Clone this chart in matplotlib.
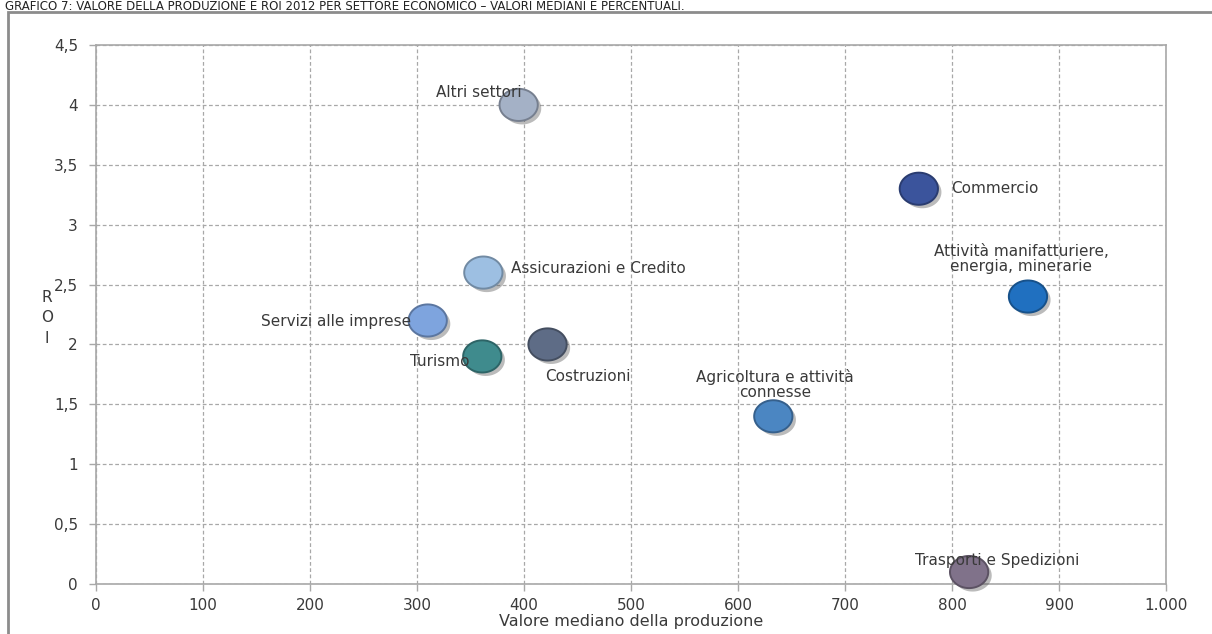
import numpy as np
import matplotlib
matplotlib.use("Agg")
import matplotlib.pyplot as plt
import matplotlib.patheffects as pe
from matplotlib.patches import Rectangle
from matplotlib.path import Path
from matplotlib.colors import to_rgb

# Sector data: median production value (x) and ROI 2012 (y)
sectors = ["Altri settori", "Commercio", "Attività manifatturiere,\nenergia, minerarie",
           "Assicurazioni e Credito", "Servizi alle imprese", "Turismo", "Costruzioni",
           "Agricoltura e attività\nconnesse", "Trasporti e Spedizioni"]
produzione = [395, 769, 871, 362, 310, 361, 422, 633, 816]
roi = [4.0, 3.3, 2.4, 2.6, 2.2, 1.9, 2.0, 1.4, 0.1]
colori = ["#a4b1c6", "#3b549c", "#2070c0", "#9dbfe2", "#7ea4de", "#3f8b8d",
          "#5e6c86", "#4b86c2", "#80728a"]

x_ticks = [0, 100, 200, 300, 400, 500, 600, 700, 800, 900, 1000]
x_tick_labels = ["0", "100", "200", "300", "400", "500", "600", "700", "800", "900", "1.000"]
y_ticks = [0, 0.5, 1, 1.5, 2, 2.5, 3, 3.5, 4, 4.5]
y_tick_labels = ["0", "0,5", "1", "1,5", "2", "2,5", "3", "3,5", "4", "4,5"]

# label placement (offset in points, alignment)
label_pos = [((-29, 9), "center"),
             ((23, 0), "left"),
             ((-5, 27), "center"),
             ((20, 3), "left"),
             ((-12, -1), "right"),
             ((-9, -4), "right"),
             ((29, -23), "center"),
             ((1, 23), "center"),
             ((20, 8), "center")]

FONT = ["DejaVu Sans"]
TXT = "#3a3a3a"
GRID = "#a8a8a8"

plt.rcParams["font.family"] = FONT

fig = plt.figure(figsize=(12.12, 6.34), dpi=100)
ax = fig.add_axes([96 / 1212, 1 - 584 / 634, (1166 - 96) / 1212, (584 - 45) / 634])

# outer frame around the chart
fig.patches.append(Rectangle((8 / 1212, -0.05), 1.05, 1 - 12 / 634 + 0.05,
                             transform=fig.transFigure, fill=False,
                             edgecolor="#8c8c8c", linewidth=2, clip_on=False))

# title above the frame
fig.text(5 / 1212, 1 - 10 / 634,
         "GRAFICO 7: VALORE DELLA PRODUZIONE E ROI 2012 PER SETTORE ECONOMICO – VALORI MEDIANI E PERCENTUALI.",
         fontsize=8.5, color="#222222", ha="left", va="baseline")

# ellipse-shaped bubble marker
t = np.linspace(0, 2 * np.pi, 64)
ellipse = Path(np.column_stack([np.cos(t), 0.84 * np.sin(t)]), closed=True)

def darker(c, f=0.72):
    r, g, b = to_rgb(c)
    return (r * f, g * f, b * f)

for xv, yv, col, name, (off, ha) in zip(produzione, roi, colori, sectors, label_pos):
    sc = ax.scatter([xv], [yv], s=760, marker=ellipse, color=col,
                    edgecolors=[darker(col)], linewidths=1.4, zorder=3, clip_on=False)
    sc.set_path_effects([pe.SimplePatchShadow(offset=(2.5, -2.5), shadow_rgbFace="#555555", alpha=0.4),
                         pe.Normal()])
    ax.annotate(name, (xv, yv), xytext=off, textcoords="offset points",
                ha=ha, va="center", fontsize=11, color=TXT, linespacing=1.05, zorder=4,
                multialignment="center")

ax.set_xlim(0, 1000)
ax.set_ylim(0, 4.5)
ax.set_xticks(x_ticks)
ax.set_xticklabels(x_tick_labels)
ax.set_yticks(y_ticks)
ax.set_yticklabels(y_tick_labels)
ax.tick_params(axis="both", colors=GRID, labelcolor=TXT, labelsize=11, length=5, width=1)
ax.tick_params(axis="x", pad=5)
ax.tick_params(axis="y", pad=8)

ax.grid(True, linestyle=(0, (3, 2)), color=GRID, linewidth=0.9)
ax.set_axisbelow(True)
for sp in ax.spines.values():
    sp.set_color(GRID)
    sp.set_linewidth(1.2)

ax.set_xlabel("Valore mediano della produzione", fontsize=11.5, color=TXT, labelpad=1)
fig.text(47 / 1212, 1 - 318 / 634, "R\nO\nI", fontsize=11, color=TXT,
         ha="center", va="center", linespacing=1.45)

fig.savefig("out.png", dpi=100, facecolor="white")
